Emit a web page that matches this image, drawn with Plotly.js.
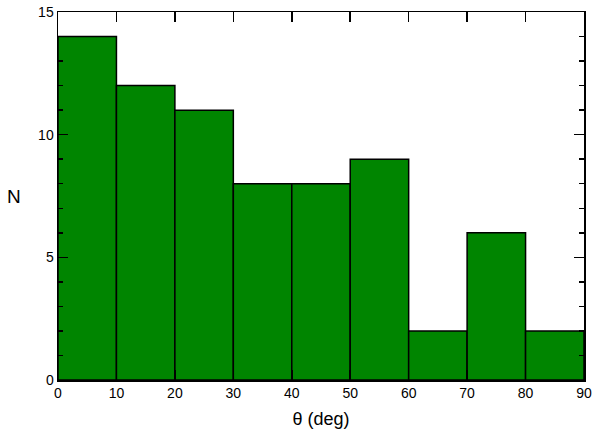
<!DOCTYPE html>
<html><head><meta charset="utf-8">
<script src="https://cdn.plot.ly/plotly-3.0.1.min.js"></script>
<style>html,body{margin:0;padding:0;background:#fff}</style>
</head><body>
<div id="chart" style="width:595px;height:437px"></div>
<script>
var binStarts = [0, 10, 20, 30, 40, 50, 60, 70, 80];
var binWidth = 10;
var counts = [14, 12, 11, 8, 8, 9, 2, 6, 2];
var xTicks = [0, 10, 20, 30, 40, 50, 60, 70, 80, 90];
var yTicks = [0, 5, 10, 15];
var xTitle = 'θ (deg)';
var yTitle = 'N';

var font = 'Liberation Sans, Arial, sans-serif';
var plotW = 595 - 58 - 11;
Plotly.newPlot('chart', [{
  type: 'bar',
  x: binStarts,
  y: counts,
  width: binStarts.map(function(){return binWidth;}),
  offset: 0,
  marker: {color: '#008500', line: {color: '#000', width: 1.5}},
  hoverinfo: 'skip'
}], {
  width: 595, height: 437,
  margin: {l: 58, r: 11, t: 12, b: 57},
  paper_bgcolor: '#fff', plot_bgcolor: '#fff',
  showlegend: false,
  bargap: 0,
  font: {family: font, color: '#000', size: 14},
  xaxis: {
    range: [0, 90], tickvals: xTicks, ticktext: xTicks.map(String),
    ticks: 'inside', ticklen: 10, tickwidth: 1.5, tickcolor: '#000',
    showline: true, linewidth: 1.5, linecolor: '#000', mirror: 'allticks',
    showgrid: false, zeroline: false,
    tickfont: {size: 14, family: font},
    title: {text: xTitle, font: {size: 18, family: font}, standoff: 12}
  },
  yaxis: {
    range: [0, 15], tickvals: yTicks, ticktext: yTicks.map(String),
    ticks: 'inside', ticklen: 10, tickwidth: 1.5, tickcolor: '#000',
    minor: {dtick: 1, ticks: 'inside', ticklen: 5, tickwidth: 1.5, tickcolor: '#000', showgrid: false},
    showline: true, linewidth: 1.5, linecolor: '#000', mirror: 'allticks',
    showgrid: false, zeroline: false,
    tickfont: {size: 14, family: font}
  },
  annotations: [{
    text: yTitle, xref: 'paper', yref: 'paper',
    x: (14 - 58) / plotW, y: 0.5, xanchor: 'center', yanchor: 'middle',
    showarrow: false, font: {size: 19, family: font, color: '#000'}
  }]
}, {staticPlot: true});
</script>
</body></html>
